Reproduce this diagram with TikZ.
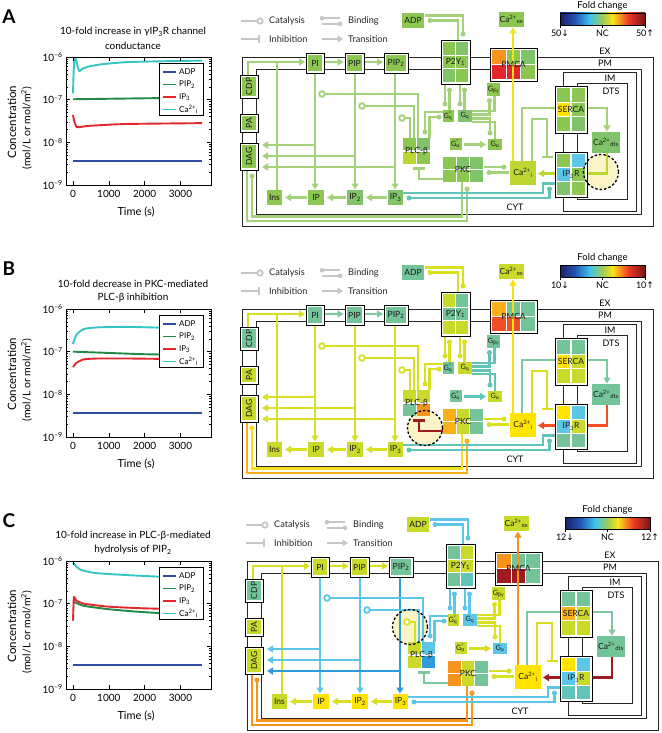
\documentclass[tikz,border=0pt]{standalone}
\usepackage{fontspec}
\setmainfont{Lato}
\newfontfamily\djv{DejaVu Sans}
\usetikzlibrary{arrows.meta}

\definecolor{gA}{HTML}{8CC751}
\definecolor{gAb}{HTML}{80C36A}
\definecolor{gE}{HTML}{A3D27B}
\definecolor{tg}{HTML}{74C49A}
\definecolor{tgE}{HTML}{7CC8A0}
\definecolor{lime}{HTML}{C9DA2B}
\definecolor{limeE}{HTML}{D8E021}
\definecolor{ylw}{HTML}{FFE400}
\definecolor{ylwE}{HTML}{F5E11B}
\definecolor{orng}{HTML}{FBB017}
\definecolor{orng2}{HTML}{F7941D}
\definecolor{redd}{HTML}{E2262A}
\definecolor{redo}{HTML}{EF4E27}
\definecolor{dred}{HTML}{9E1C20}
\definecolor{cyn}{HTML}{5BC6E8}
\definecolor{tlE}{HTML}{62C3B9}
\definecolor{blu}{HTML}{2E9BDA}
\definecolor{cream}{HTML}{FBF4C6}
\definecolor{lgray}{HTML}{C6C6C6}
\definecolor{ygA}{HTML}{BDD634}
\definecolor{pADP}{HTML}{2C4FA3}
\definecolor{pPIP}{HTML}{1E8B47}
\definecolor{pIPt}{HTML}{E2282D}
\definecolor{pCa}{HTML}{35C5C5}
\definecolor{jA}{HTML}{1B1F6B}
\definecolor{jB}{HTML}{2458B5}
\definecolor{jC}{HTML}{3DC3EE}
\definecolor{jD}{HTML}{9FCC55}
\definecolor{jE}{HTML}{F9E31A}
\definecolor{jF}{HTML}{EE3A24}
\definecolor{jG}{HTML}{7A1518}

\tikzset{
 mem/.style={draw=black!85,line width=0.85pt},
 ed/.style={line width=2.6pt},
 arr/.style={line width=2.6pt,-{Triangle[length=6pt,width=7pt]}},
 btxt/.style={font=\fontsize{8.5}{9}\selectfont,inner sep=0pt,text=black!90},
 gtxt/.style={font=\fontsize{7.3}{8}\selectfont,inner sep=0pt,text=black!90},
 mtxt/.style={font=\fontsize{9}{10}\selectfont,inner sep=0pt},
 lgd/.style={font=\fontsize{9.2}{10}\selectfont,inner sep=0pt,anchor=west,text=black!85},
 tick/.style={font=\fontsize{10}{11}\selectfont,inner sep=1pt},
 ttl/.style={font=\fontsize{10}{11}\selectfont,inner sep=0pt},
 hlc/.style={draw=black,line width=1.3pt,dash pattern=on 2.5pt off 2pt},
 plgd/.style={font=\fontsize{8}{9}\selectfont,inner sep=0pt,anchor=west},
}

\newcommand\mycells[7]{%
 \pgfmathsetmacro\mcw{((#3)-(#1)-((#5)-1)*1.2)/(#5)}%
 \pgfmathsetmacro\mch{((#4)-(#2)-((#6)-1)*1.2)/(#6)}%
 \foreach \cc [count=\ii from 0] in #7 {%
   \pgfmathtruncatemacro\mycol{mod(\ii,#5)}%
   \pgfmathtruncatemacro\myrow{div(\ii,#5)}%
   \pgfmathsetmacro\mxa{(#1)+\mycol*(\mcw+1.2)}%
   \pgfmathsetmacro\mya{(#2)+\myrow*(\mch+1.2)}%
   \fill[\cc] (\mxa,\mya) rectangle ++(\mcw,\mch);
 }}
\newcommand\membox[4]{\filldraw[fill=white,draw=black,line width=0.8pt] (#1,#2) rectangle (#3,#4);}
\newcommand\bdot[3]{\fill[#1] (#2,#3) circle[radius=2.5pt];}
\newcommand\catc[3]{\draw[#1,line width=1.8pt,fill=white] (#2,#3) circle[radius=2.8pt];}
\newcommand\pcurve[2]{\draw[#1,line width=1.9pt,line join=round] plot[smooth,tension=0.35] coordinates {#2};}

\newcommand\setedges[1]{\colorlet{eCDP}{#1}\colorlet{eIns}{#1}\colorlet{ePPa}{#1}\colorlet{ePPb}{#1}%
 \colorlet{eVa}{#1}\colorlet{eVb}{#1}\colorlet{eVc}{#1}\colorlet{eBa}{#1}\colorlet{eBb}{#1}\colorlet{eBc}{#1}%
 \colorlet{eCa}{#1}\colorlet{eCb}{#1}\colorlet{eCc}{#1}\colorlet{eADP}{#1}\colorlet{eP2Y}{#1}%
 \colorlet{eGqPLC}{#1}\colorlet{eGq}{#1}\colorlet{eGa}{#1}\colorlet{eDAG}{#1}\colorlet{eDAGb}{#1}%
 \colorlet{eIPR}{#1}\colorlet{ePKC}{#1}\colorlet{eInhCa}{#1}\colorlet{ePMCA}{#1}\colorlet{eSER}{#1}%
 \colorlet{eRel}{#1}\colorlet{eDts}{#1}\colorlet{eInhPLC}{#1}}
\newcommand\setboxes[1]{\colorlet{kADP}{#1}\colorlet{kCaex}{#1}\colorlet{kPI}{#1}\colorlet{kPIP}{#1}%
 \colorlet{kPIPt}{#1}\colorlet{kCDP}{#1}\colorlet{kPA}{#1}\colorlet{kDAG}{#1}\colorlet{kIns}{#1}%
 \colorlet{kIP}{#1}\colorlet{kIPt}{#1}\colorlet{kIPh}{#1}\colorlet{kGqs}{#1}\colorlet{kGq}{#1}%
 \colorlet{kGbg}{#1}\colorlet{kGas}{#1}\colorlet{kGa}{#1}\colorlet{kCai}{#1}\colorlet{kCadts}{#1}}

\newcommand\drawdiagram{%
\fill[cream] (\hlx,\hly) circle[radius=17.5pt];
% membranes
\draw[mem] (242,57) rectangle (653,226);
\draw[mem] (256,69) rectangle (641,214);
\draw[mem] (563,86) -- (563,72) -- (636,72) -- (636,211) -- (563,211) -- (563,196);
\draw[mem] (563,133) -- (563,152);
\draw[mem] (577,86) -- (577,83) -- (627,83) -- (627,199) -- (577,199) -- (577,196);
\draw[mem] (577,133) -- (577,152);
\node[mtxt] (EX) at (605,51) {EX};
\node[mtxt] (PM) at (605,63) {PM};
\node[mtxt] (IM) at (610,78) {IM};
\node[mtxt] (DTS) at (611,91) {DTS};
\node[mtxt] (CYT) at (515,207) {CYT};
% legend
\draw[lgray,line width=2.2pt] (241,21) -- (257.2,21);
\draw[lgray,line width=1.7pt,fill=white] (260,21) circle[radius=2.7pt];
\node[lgd] (lcat) at (269,21) {Catalysis};
\draw[lgray,line width=2.2pt] (322,18.2) -- (340,18.2);
\fill[lgray] (322,18.2) circle[radius=2.3pt];
\draw[lgray,line width=2.2pt] (322,23.8) -- (340,23.8);
\fill[lgray] (340,23.8) circle[radius=2.3pt];
\node[lgd] (lbind) at (348,21) {Binding};
\draw[lgray,line width=2.2pt] (241,39) -- (259,39);
\draw[lgray,line width=2.2pt] (259,35.3) -- (259,42.7);
\node[lgd] (linh) at (269,39) {Inhibition};
\draw[lgray,line width=2.2pt,-{Triangle[length=5.5pt,width=6.5pt]}] (322,39) -- (343,39);
\node[lgd] (ltr) at (348,39) {Transition};
% colorbar
\shade[left color=jA,right color=jB] (560,13) rectangle (575.6,25);
\shade[left color=jB,right color=jC] (575.3,13) rectangle (590,25);
\shade[left color=jC,right color=jD] (589.7,13) rectangle (602.8,25);
\shade[left color=jD,right color=jE] (602.5,13) rectangle (613,25);
\shade[left color=jE,right color=jF] (612.7,13) rectangle (628.3,25);
\shade[left color=jF,right color=jG] (628,13) rectangle (645,25);
\draw[line width=0.4pt] (560,13) rectangle (645,25);
\draw[line width=0.5pt] (560,25) -- (560,28) (602.5,25) -- (602.5,28) (645,25) -- (645,28);
\node[mtxt,font=\fontsize{9.5}{10}\selectfont] (fc) at (602.5,5.5) {Fold change};
\node[mtxt] (fcl) at (560,33) {\fcv{\djv ↓}};
\node[mtxt] (fcm) at (602.5,33) {NC};
\node[mtxt] (fcr) at (645,33) {\fcv{\djv ↑}};
% edges
\draw[ed,eIns] (277,190) -- (277,62);
\draw[arr,eCDP] (248,75) -- (248,62) -- (305,62);
\draw[arr,ePPa] (325,62) -- (343.5,62);
\draw[arr,ePPb] (365,62) -- (383,62);
\draw[arr,eVa] (315,73) -- (315,189.5);
\draw[arr,eVa] (315,145) -- (262,145);
\draw[arr,eVb] (355,73) -- (355,189.5);
\draw[arr,eVb] (355,156) -- (262,156);
\draw[arr,eVc] (395,73) -- (395,189.5);
\draw[arr,eVc] (395,167) -- (262,167);
\draw[arr,eBa] (387,197.5) -- (366,197.5);
\draw[arr,eBb] (346,197.5) -- (327,197.5);
\draw[arr,eBc] (307,197.5) -- (285,197.5);
\draw[ed,eCa] (325,94) -- (418,94) -- (418,138);
\catc{eCa}{322}{94}
\draw[ed,eCb] (365,106) -- (414,106) -- (414,138);
\catc{eCb}{362}{106}
\draw[ed,eCc] (405,118) -- (410,118) -- (410,138);
\catc{eCc}{402}{118}
\draw[ed,eGqPLC] (443,112) -- (425,112) -- (425,132);
\bdot{eGqPLC}{425}{132}
\draw[ed,eGqPLC] (439,117) -- (429.5,117) -- (429.5,138);
\bdot{eGqPLC}{439}{117}
\draw[ed,eADP] (424.5,15.5) -- (463,15.5) -- (463,34);
\bdot{eADP}{463}{34}
\draw[ed,eADP] (430,20.5) -- (458,20.5) -- (458,40);
\bdot{eADP}{430}{20.5}
\draw[ed,eP2Y] (445,84) -- (445,104); \bdot{eP2Y}{445}{104}
\draw[ed,eP2Y] (449.5,90) -- (449.5,110); \bdot{eP2Y}{449.5}{90}
\draw[ed,eP2Y] (460,84) -- (460,104); \bdot{eP2Y}{460}{104}
\draw[ed,eP2Y] (464.5,90) -- (464.5,110); \bdot{eP2Y}{464.5}{90}
\draw[ed,eGq] (472,111) -- (494.5,111) -- (494.5,96);
\draw[ed,eGq] (472,114.7) -- (489.5,114.7) -- (489.5,100.5); \bdot{eGq}{489.5}{100.5}
\draw[ed,eGq] (472,118.3) -- (490,118.3) -- (490,133); \bdot{eGq}{490}{133}
\draw[ed,eGq] (472,122) -- (495,122) -- (495,139);
\draw[arr,eGa] (464,144.5) -- (486,144.5);
\draw[ed,eDAG] (247,170) -- (247,221) -- (467,221) -- (467,189);
\bdot{eDAG}{467}{189}
\draw[ed,eDAGb] (252,176) -- (252,216.5) -- (462,216.5) -- (462,182);
\bdot{eDAGb}{252}{176}
\draw[ed,eIPR] (403,193) -- (543,193) -- (543,183.5) -- (555,183.5);
\draw[ed,eIPR] (409,198) -- (549.5,198) -- (549.5,189);
\bdot{eIPR}{409}{198}\bdot{eIPR}{549.5}{189}
\draw[ed,ePKC] (484,167) -- (504,167); \bdot{ePKC}{504}{167}
\draw[ed,ePKC] (489,172.5) -- (509,172.5); \bdot{ePKC}{489}{172.5}
\draw[ed,eInhCa] (532,161) -- (532,119) -- (547,119) -- (547,157);
\draw[ed,eInhCa] (541.5,157) -- (552.5,157);
\draw[arr,eSER] (522,161) -- (522,108) -- (607,108) -- (607,131.5);
\draw[arr,eRel,line width=2.9pt] (555,173.5) -- (538,173.5);
\draw[ed,eDts,line width=2.9pt] (607,153) -- (607,173.5) -- (588,173.5);
\draw[ed,eInhPLC] (443,179) -- (419,179) -- (419,168.5);
\draw[ed,eInhPLC] (413,168.5) -- (425,168.5);
% boxes
\fill[kADP] (402,13) rectangle (424,28); \node[btxt] (ADP) at (413,20.5) {ADP};
\fill[kCaex] (499,12) rectangle (524,27); \node[btxt] (Caex) at (511.5,19.5) {Ca\textsuperscript{2+}\textsubscript{ex}};
\membox{306}{53}{324}{73}\fill[kPI] (308,55) rectangle (322,71); \node[btxt] (PI) at (315,63) {PI};
\membox{345}{53}{364}{73}\fill[kPIP] (347,55) rectangle (362,71); \node[btxt] (PIP) at (354.5,63) {PIP};
\membox{384}{53}{408}{73}\fill[kPIPt] (386,55) rectangle (406,71); \node[btxt] (PIPt) at (396,63) {PIP\textsubscript{2}};
\membox{240}{75}{258}{98}\fill[kCDP] (242,77) rectangle (256,96); \node[btxt,rotate=90] (CDP) at (249,86.5) {CDP};
\membox{240}{114}{258}{132}\fill[kPA] (242,116) rectangle (256,130); \node[btxt,rotate=90] (PA) at (249,123) {PA};
\membox{240}{143}{258}{170}\fill[kDAG] (242,145) rectangle (256,168); \node[btxt,rotate=90] (DAG) at (249,156.5) {DAG};
\fill[kIns] (267,190) rectangle (282,205); \node[btxt] (Ins) at (274.5,197.5) {Ins};
\fill[kIP] (308,190) rectangle (324,205); \node[btxt] (IP) at (316,197.5) {IP};
\fill[kIPt] (347,190) rectangle (363,205); \node[btxt] (IPt) at (355,197.5) {IP\textsubscript{2}};
\fill[kIPh] (388,190) rectangle (403,205); \node[btxt] (IPh) at (395.5,197.5) {IP\textsubscript{3}};
\fill[kGqs] (443,110) rectangle (454,122); \node[gtxt] (Gqs) at (448,116) {G\rlap{\textsuperscript{*}}\textsubscript{q}};
\fill[kGq] (458,110) rectangle (472,122); \node[gtxt] (Gq) at (465,116) {G\textsubscript{q}};
\fill[kGbg] (487,83) rectangle (500,96); \node[gtxt] (Gbg) at (493.5,89.5) {G\textsubscript{βγ}};
\fill[kGas] (450,138) rectangle (462,150); \node[gtxt] (Gas) at (455.5,144) {G\rlap{\textsuperscript{*}}\textsubscript{α}};
\fill[kGa] (488,139) rectangle (502,150); \node[gtxt] (Ga) at (495,144.5) {G\textsubscript{α}};
\mycells{443}{157}{483}{182}{3}{2}\pkc \node[btxt] (PKC) at (463,169.5) {PKC};
\mycells{403}{138}{430}{164}{2}{2}\plc \node[btxt] (PLC) at (416.5,151) {PLC-β};
\fill[kCai] (510,161) rectangle (536,185); \node[btxt] (Cai) at (523,173) {Ca\textsuperscript{2+}\textsubscript{i}};
\fill[kCadts] (592,132) rectangle (620,153); \node[btxt] (Cadts) at (606,142.5) {Ca\textsuperscript{2+}\textsubscript{dts}};
\membox{441}{40}{470}{84}\mycells{443}{42}{468}{82}{2}{3}\pyc \node[btxt] (P2Y) at (455.5,62) {P2Y\textsubscript{1}};
\membox{490}{48}{537}{81}\mycells{492}{50}{535}{79}{3}{2}\pmc
\membox{555}{86}{587}{133}\mycells{557}{88}{585}{131}{2}{3}\sec \node[btxt] (SERCA) at (571,109.5) {SERCA};
\membox{555}{152}{587}{197}\mycells{557}{154}{585}{195}{2}{3}\ipc \node[btxt] (IPR) at (571,174.5) {IP\textsubscript{3}R};
\draw[arr,ePMCA] (513,161) -- (513,27.5);
\node[btxt] (PMCA) at (513.5,64.5) {PMCA};
\draw[hlc] (\hlx,\hly) circle[radius=17.5pt];
}

\newcommand\plotframe{%
 \draw[line width=0.6pt] (66,57) rectangle (211,185);
 \foreach \d in {0,1,2,3}{\draw[line width=0.5pt] (66,57+42.667*\d) -- ++(4,0) (211,57+42.667*\d) -- ++(-4,0);}
 \foreach \d in {0,1,2}{\foreach \k in {2,...,9}{\pgfmathsetmacro\yy{57+42.667*(\d+1-log10(\k))}\draw[line width=0.4pt] (66,\yy) -- ++(2,0) (211,\yy) -- ++(-2,0);}}
 \foreach \t in {0,1000,2000,3000}{\pgfmathsetmacro\xx{73+0.03583*\t}\draw[line width=0.5pt] (\xx,185) -- ++(0,-4) (\xx,57) -- ++(0,4); \node[tick] at (\xx,193.5) {\t};}
 \foreach \d/\e in {0/6,1/7,2/8,3/9}{\node[tick,anchor=east] at (64,57+42.667*\d) {10\textsuperscript{–\e}};}
 \node[font=\fontsize{11}{12}\selectfont] (xl) at (136,212) {Time (s)};
 \node[rotate=90,font=\fontsize{11.5}{12}\selectfont] (yl) at (12,122) {Concentration};
 \node[rotate=90,font=\fontsize{10.5}{12}\selectfont] (yu) at (26.5,128) {(mol/L or mol/m\textsuperscript{2})};
}
\newcommand\plotlegend{%
 \filldraw[fill=white,draw=black,line width=0.5pt] (159,63) rectangle (203,115);
 \draw[pADP,line width=1.9pt] (163,72) -- (176,72); \node[plgd] (lg1) at (179,72) {ADP};
 \draw[pPIP,line width=1.9pt] (163,84.5) -- (176,84.5); \node[plgd] (lg2) at (179,84.5) {PIP\textsubscript{2}};
 \draw[pIPt,line width=1.9pt] (163,97) -- (176,97); \node[plgd] (lg3) at (179,97) {IP\textsubscript{3}};
 \draw[pCa,line width=1.9pt] (163,109.5) -- (176,109.5); \node[plgd] (lg4) at (179,109.5) {Ca\textsuperscript{2+}\textsubscript{i}};
}

\begin{document}
\begin{tikzpicture}[x=1pt,y=-1pt]
\useasboundingbox (0,0) rectangle (661,733);
\fill[white] (0,0) rectangle (661,733);

% ================= Panel A
\begin{scope}[name prefix=A-]
\node[font=\fontsize{19}{20}\selectfont\bfseries] (lab) at (9,17) {A};
\node[ttl] (t1) at (133,32) {10-fold increase in γIP\textsubscript{3}R channel};
\node[ttl] (t2) at (133,46) {conductance};
\begin{scope}[shift={(73,57)},x=0.03583pt,y=-42.667pt]
\pcurve{pADP}{(0,2.44) (3600,2.44)}
\pcurve{pPIP}{(0,0.99) (1800,0.97) (3600,0.95)}
\pcurve{pIPt}{(0,1.36) (40,1.52) (100,1.64) (200,1.64) (500,1.61) (1500,1.57) (3600,1.55)}
\pcurve{pCa}{(0,0.85) (20,0.3) (45,0.02) (80,0.06) (170,0.33) (240,0.29) (400,0.23) (800,0.17) (1500,0.12) (2500,0.1) (3600,0.085)}
\end{scope}
\plotframe
\plotlegend
\setedges{gE}\setboxes{gA}
\colorlet{eIPR}{tlE}\colorlet{ePMCA}{ylwE}\colorlet{eRel}{ygA}\colorlet{eDts}{ygA}
\colorlet{kCai}{ygA}\colorlet{kGq}{gAb}\colorlet{kCadts}{gAb}\colorlet{kIPh}{gAb}\colorlet{kIPt}{gAb}
\def\pyc{gA,gAb,gA,gA,gAb,gA}
\def\pmc{orng2,gA,gAb,redd,redd,gA}
\def\sec{gA,gA,ylw,gA,gA,gAb}
\def\ipc{gA,cyn,cyn,gA,gAb,gA}
\def\plc{gA,gAb,ygA,gA}
\def\pkc{gA,gAb,gAb,gA,gA,gAb}
\def\hlx{601}\def\hly{172}\def\fcv{50}
\drawdiagram
\end{scope}

% ================= Panel B
\begin{scope}[shift={(0,252)},name prefix=B-]
\node[font=\fontsize{19}{20}\selectfont\bfseries] (lab) at (9,17) {B};
\node[ttl] (t1) at (133,32) {10-fold decrease in PKC-mediated};
\node[ttl] (t2) at (133,46) {PLC-β inhibition};
\begin{scope}[shift={(73,57)},x=0.03583pt,y=-42.667pt]
\pcurve{pADP}{(0,2.44) (3600,2.44)}
\pcurve{pPIP}{(0,1.0) (1000,1.03) (2000,1.06) (3600,1.08)}
\pcurve{pIPt}{(0,1.36) (100,1.26) (300,1.18) (700,1.16) (1500,1.16) (2500,1.17) (3600,1.19)}
\pcurve{pCa}{(0,0.82) (100,0.6) (300,0.47) (700,0.43) (1500,0.42) (2500,0.44) (3600,0.5)}
\end{scope}
\plotframe
\plotlegend
\setedges{limeE}\setboxes{lime}
\colorlet{kADP}{tg}\colorlet{kPI}{tg}\colorlet{kPIP}{tg}\colorlet{kPIPt}{tg}\colorlet{kCDP}{tg}
\colorlet{kGqs}{tg}\colorlet{kGbg}{tg}\colorlet{kGas}{tg}\colorlet{kCadts}{tg}\colorlet{kCai}{ylw}
\colorlet{ePPa}{tgE}\colorlet{ePPb}{tgE}\colorlet{eGq}{tlE}\colorlet{eGa}{tlE}\colorlet{eDAG}{orng}\colorlet{eDAGb}{ylwE}
\colorlet{eIPR}{tlE}\colorlet{ePMCA}{ylwE}\colorlet{eSER}{tgE}\colorlet{eRel}{redo}\colorlet{eDts}{redo}\colorlet{eInhPLC}{dred}
\def\pyc{lime,tg,tg,tg,lime,lime}
\def\pmc{orng,tg,tg,redo,redo,tg}
\def\sec{tg,tg,ylw,lime,lime,lime}
\def\ipc{ylw,cyn,cyn,lime,tg,tg}
\def\plc{lime,lime,tg,orng2}
\def\pkc{orng,lime,tg,orng,lime,tg}
\def\hlx{425}\def\hly{176}\def\fcv{10}
\drawdiagram
\end{scope}

% ================= Panel C
\begin{scope}[shift={(0,504)},name prefix=C-]
\node[font=\fontsize{19}{20}\selectfont\bfseries] (lab) at (9,17) {C};
\node[ttl] (t1) at (133,32) {10-fold increase in PLC-β-mediated};
\node[ttl] (t2) at (133,46) {hydrolysis of PIP\textsubscript{2}};
\begin{scope}[shift={(73,57)},x=0.03583pt,y=-42.667pt]
\pcurve{pADP}{(0,2.44) (3600,2.44)}
\pcurve{pCa}{(0,0.03) (60,0.1) (200,0.2) (600,0.28) (1500,0.33) (2500,0.37) (3600,0.41)}
\pcurve{pPIP}{(0,0.95) (300,1.05) (1000,1.13) (2000,1.2) (3600,1.27)}
\pcurve{pIPt}{(0,1.4) (25,0.85) (80,0.92) (300,1.0) (1000,1.07) (2000,1.11) (3600,1.14)}
\end{scope}
\plotframe
\plotlegend
\setedges{limeE}\setboxes{lime}
\colorlet{kPIPt}{tg}\colorlet{kCDP}{tg}\colorlet{kCadts}{tg}\colorlet{kIP}{ylw}\colorlet{kIPt}{ylw}
\colorlet{kIPh}{ylw}\colorlet{kCai}{ylw}\colorlet{kGq}{cyn}\colorlet{kGa}{cyn}
\colorlet{eVa}{cyn}\colorlet{eVb}{cyn}\colorlet{eVc}{blu}\colorlet{eCa}{cyn}\colorlet{eCb}{cyn}
\colorlet{eADP}{cyn}\colorlet{eP2Y}{cyn}\colorlet{eGqPLC}{cyn}\colorlet{eDAG}{orng2}\colorlet{eDAGb}{orng2}
\colorlet{eIPR}{cyn}\colorlet{ePMCA}{orng2}\colorlet{eSER}{tgE}\colorlet{eRel}{dred}\colorlet{eDts}{dred}\colorlet{eInhPLC}{tgE}
\def\pyc{tg,lime,lime,lime,tg,tlE}
\def\pmc{orng2,tg,tg,dred,dred,tg}
\def\sec{tg,tg,orng,lime,lime,lime}
\def\ipc{ylw,cyn,cyn,lime,tlE,tlE}
\def\plc{lime,cyn,lime,blu}
\def\pkc{orng2,lime,tg,orng2,lime,tg}
\def\hlx{405}\def\hly{123}\def\fcv{12}
\begin{scope}[shift={(5,0)}]
\drawdiagram
\end{scope}
\end{scope}
\end{tikzpicture}
\end{document}
